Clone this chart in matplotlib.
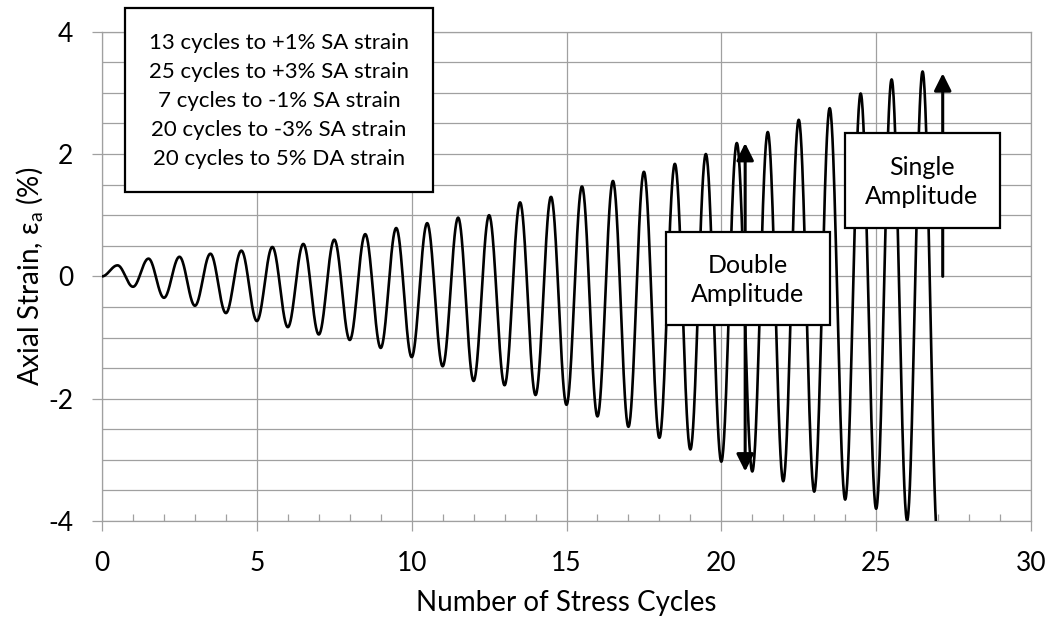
import matplotlib.pyplot as plt
import matplotlib.patches as patches
import numpy as np

# strain peaks (at n - 0.5 cycles) and troughs (at n cycles), n = 1..27
cycle_no = np.arange(1, 28)
peak_strain = [0.18, 0.29, 0.32, 0.37, 0.42, 0.48, 0.53, 0.60, 0.69, 0.79,
               0.87, 0.96, 1.00, 1.21, 1.30, 1.47, 1.56, 1.71, 1.84, 2.00,
               2.18, 2.36, 2.56, 2.75, 2.99, 3.22, 3.35]
trough_strain = [-0.17, -0.35, -0.48, -0.60, -0.73, -0.83, -0.95, -1.04, -1.17, -1.32,
                 -1.47, -1.71, -1.78, -1.94, -2.10, -2.29, -2.46, -2.64, -2.83, -3.03,
                 -3.19, -3.35, -3.52, -3.65, -3.80, -3.99, -4.40]

notes = ['13 cycles to +1% SA strain',
         '25 cycles to +3% SA strain',
         '7 cycles to -1% SA strain',
         '20 cycles to -3% SA strain',
         '20 cycles to 5% DA strain']

# extreme points in time order, then smooth half-cosine between them
t_ext = [0.0]
v_ext = [0.0]
for n, p, t in zip(cycle_no, peak_strain, trough_strain):
    t_ext += [n - 0.5, n]
    v_ext += [p, t]

xs, ys = [], []
for i in range(len(t_ext) - 1):
    s = np.linspace(0, 1, 40)
    xs.append(t_ext[i] + (t_ext[i + 1] - t_ext[i]) * s)
    ys.append(v_ext[i] + (v_ext[i + 1] - v_ext[i]) * (1 - np.cos(np.pi * s)) / 2)
xs = np.concatenate(xs)
ys = np.concatenate(ys)

plt.rcParams['font.family'] = ['Lato', 'DejaVu Sans']
plt.rcParams['mathtext.fontset'] = 'dejavusans'

fig = plt.figure(figsize=(10.52, 6.23), dpi=100)
ax = fig.add_axes([0.097, 0.1637, 0.883, 0.7854])

grid_c = '#a0a0a0'
ax.plot(xs, ys, color='black', linewidth=1.9, zorder=3)

ax.set_xlim(0, 30)
ax.set_ylim(-4, 4)
ax.set_xticks(np.arange(0, 31, 5))
ax.set_xticks(np.arange(0, 31, 1), minor=True)
ax.set_yticks(np.arange(-4, 5, 2))
ax.set_yticks(np.arange(-4, 4.01, 0.5), minor=True)
ax.set_yticklabels(['-4', '-2', '0', '2', '4'])

ax.grid(True, which='major', axis='x', color=grid_c, linewidth=0.9)
ax.grid(True, which='both', axis='y', color=grid_c, linewidth=0.9)
ax.set_axisbelow(True)

for sp in ax.spines.values():
    sp.set_color(grid_c)
    sp.set_linewidth(0.9)

ax.tick_params(axis='both', which='major', direction='out', length=7.5,
               width=0.9, color=grid_c, labelsize=19)
ax.tick_params(axis='x', which='major', pad=14)
ax.tick_params(axis='y', which='major', pad=13)
ax.tick_params(axis='x', which='minor', direction='in', length=5,
               width=0.9, color=grid_c)
ax.tick_params(axis='y', which='minor', length=0)

ax.set_xlabel('Number of Stress Cycles', fontsize=20, labelpad=10)
ax.set_ylabel('Axial Strain, ε$_\\mathregular{a}$ (%)', fontsize=20, labelpad=2)

# note box at top left
fig.patches.append(patches.Rectangle((0.1188, 0.6918), 0.2928, 0.2953,
                                     transform=fig.transFigure, facecolor='white',
                                     edgecolor='black', linewidth=1.6, zorder=10))
fig.text(0.2652, 0.8379, '\n'.join(notes), ha='center', va='center',
         fontsize=16, linespacing=1.55, zorder=11)

# double amplitude arrow + box
ax.annotate('', xy=(20.77, 2.18), xytext=(20.77, -3.19),
            arrowprops=dict(arrowstyle='<|-|>', color='black', lw=2.2,
                            mutation_scale=26, shrinkA=0, shrinkB=0), zorder=4)
ax.add_patch(patches.Rectangle((18.21, -0.79), 5.30, 1.52, facecolor='white',
                               edgecolor='black', linewidth=1.6, zorder=6))
ax.text(20.86, -0.06, 'Double\nAmplitude', ha='center', va='center', fontsize=18,
        linespacing=1.3, zorder=7)

# single amplitude arrow + box
ax.annotate('', xy=(27.15, 3.32), xytext=(27.15, 0.0),
            arrowprops=dict(arrowstyle='-|>', color='black', lw=2.2,
                            mutation_scale=26, shrinkA=0, shrinkB=0), zorder=4)
ax.add_patch(patches.Rectangle((23.99, 0.79), 5.0, 1.555, facecolor='white',
                               edgecolor='black', linewidth=1.6, zorder=6))
ax.text(26.48, 1.54, 'Single\nAmplitude', ha='center', va='center', fontsize=18,
        linespacing=1.3, zorder=7)

plt.savefig('out.png', dpi=100)
